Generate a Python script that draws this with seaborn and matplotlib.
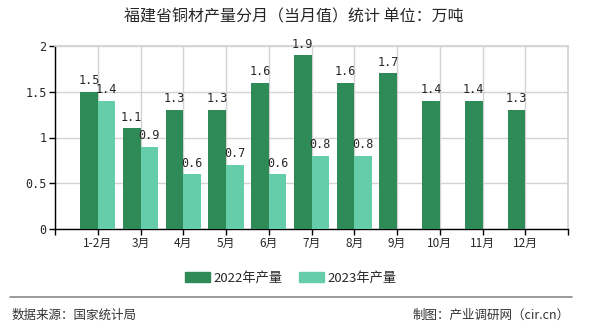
import matplotlib
matplotlib.use("Agg")
import matplotlib.pyplot as plt
import matplotlib.patches as mpatches
import seaborn as sns
import pandas as pd
import numpy as np

months = ["1-2月", "3月", "4月", "5月", "6月", "7月", "8月", "9月", "10月", "11月", "12月"]
v2022 = [1.5, 1.1, 1.3, 1.3, 1.6, 1.9, 1.6, 1.7, 1.4, 1.4, 1.3]
v2023 = [1.4, 0.9, 0.6, 0.7, 0.6, 0.8, 0.8, np.nan, np.nan, np.nan, np.nan]
series = ["2022年产量", "2023年产量"]
colors = ["#2E8B57", "#66CDAA"]

sns.set_theme(style="white")
plt.rcParams['font.family'] = ['Noto Sans CJK SC', 'DejaVu Sans']

df = pd.DataFrame({
    "month": months * 2,
    "value": v2022 + v2023,
    "series": [series[0]] * len(months) + [series[1]] * len(months),
})

fig = plt.figure(figsize=(5.9, 3.3), dpi=100)
ax = fig.add_axes([55/590, 1-229/330, (568-55)/590, (229-46)/330])

sns.barplot(data=df, x="month", y="value", hue="series", palette=colors,
            width=0.82, saturation=1, ax=ax, legend=False, zorder=3,
            linewidth=0, edgecolor="none")

ax.set_xlim(-1, 11)
ax.set_ylim(0, 2)
ax.set_yticks([0, 0.5, 1, 1.5, 2])
ax.set_yticklabels(["0", "0.5", "1", "1.5", "2"], family="DejaVu Sans Mono", fontsize=8.5)
ax.set_xticks(range(-1, 12))
ax.set_xticklabels([""] + months + [""], fontsize=8.5)
ax.set_xlabel("")
ax.set_ylabel("")

ax.grid(True, color="#d3d3d3", linewidth=1, zorder=0)
for s in ["top", "right"]:
    ax.spines[s].set_color("#d3d3d3")
for s in ["left", "bottom"]:
    ax.spines[s].set_color("black")
    ax.spines[s].set_linewidth(1)
ax.tick_params(axis="both", length=4, width=1, color="black", direction="out",
               bottom=True, left=True, pad=2)

for cont in ax.containers:
    for bar in cont:
        h = bar.get_height()
        if np.isnan(h):
            continue
        ax.text(bar.get_x() + bar.get_width()/2, h + 0.05, f"{h:.1f}",
                ha="center", va="bottom", fontsize=8.5, family="DejaVu Sans Mono")

fig.text(294/590, 1-17/330, "福建省铜材产量分月（当月值）统计 单位：万吨",
         ha="center", va="center", fontsize=11.5)

handles = [mpatches.Patch(color=c, label=s) for c, s in zip(colors, series)]
fig.legend(handles=handles, loc="center", bbox_to_anchor=(291/590, 1-278/330),
           ncol=2, frameon=False, fontsize=9.5, handlelength=1.9, handleheight=0.8,
           columnspacing=1.2, handletextpad=0.3)

fig.add_artist(plt.Line2D([10/590, 572/590], [1-297/330, 1-297/330],
                          color="#888888", linewidth=1.2, transform=fig.transFigure))
fig.text(12/590, 1-315/330, "数据来源：国家统计局", ha="left", va="center",
         fontsize=9, color="#333333")
fig.text(570/590, 1-315/330, "制图：产业调研网（cir.cn）", ha="right", va="center",
         fontsize=9, color="#333333")

fig.savefig("out.png", dpi=100)
